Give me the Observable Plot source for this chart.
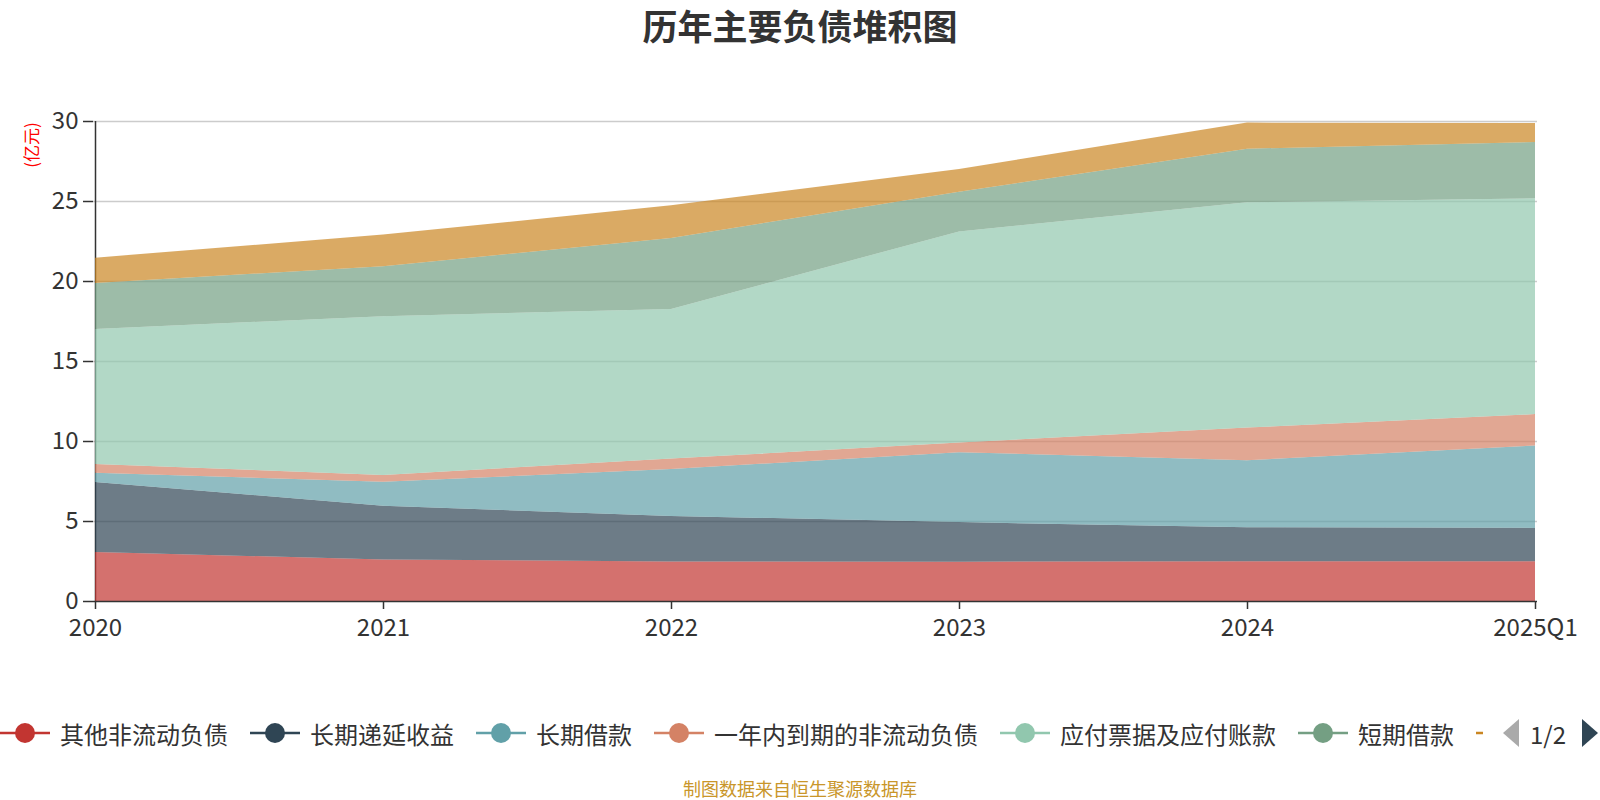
<!DOCTYPE html>
<html>
<head>
<meta charset="utf-8">
<script src="https://cdn.jsdelivr.net/npm/d3@7"></script>
<script src="https://cdn.jsdelivr.net/npm/@observablehq/plot@0.6"></script>
<style>
  body { margin: 0; background: #fff; }
  #wrap { position: relative; width: 1600px; height: 800px; overflow: hidden;
          font-family: "Noto Sans CJK SC", "Noto Sans", sans-serif; background: #fff; }
  #title { position: absolute; left: 0; top: 6px; width: 1600px; text-align: center;
           font-size: 35px; font-weight: bold; color: #333; line-height: 38px; }
  #unit { position: absolute; left: 30.5px; top: 145px; transform: translate(-50%, -50%) rotate(-90deg);
          font-size: 17px; color: #ff0000; white-space: nowrap; line-height: 20px; }
  #chart { position: absolute; left: 0; top: 100px; }
  #legend { position: absolute; left: 0; top: 700px; }
  #caption { position: absolute; left: 0; top: 777px; width: 1600px; text-align: center;
             font-size: 18px; color: #c9962a; line-height: 22px; }
</style>
</head>
<body>
<div id="wrap">
  <div id="title">历年主要负债堆积图</div>
  <div id="unit">(亿元)</div>
  <div id="chart"></div>
  <svg id="legend" width="1600" height="70"></svg>
  <div id="caption">制图数据来自恒生聚源数据库</div>
</div>
<script>
// ---- data ----
const years = ["2020", "2021", "2022", "2023", "2024", "2025Q1"];
const seriesNames = ["其他非流动负债", "长期递延收益", "长期借款", "一年内到期的非流动负债", "应付票据及应付账款", "短期借款", "合同负债"];
const seriesColors = ["#c23531", "#2f4554", "#61a0a8", "#d48265", "#91c7ae", "#749f83", "#ca8622"];
const otherNonCurrent = [3.06, 2.60, 2.47, 2.46, 2.48, 2.48];
const deferredIncome  = [4.38, 3.35, 2.85, 2.47, 2.13, 2.09];
const longTermLoans   = [0.58, 1.50, 2.93, 4.37, 4.19, 5.15];
const currentPortion  = [0.54, 0.43, 0.65, 0.60, 2.04, 1.96];
const payables        = [8.44, 9.92, 9.35, 13.20, 14.08, 13.49];
const shortTermLoans  = [2.88, 3.12, 4.44, 2.48, 3.35, 3.52];
const contractLiab    = [1.58, 1.98, 2.04, 1.42, 1.63, 1.19];
const yTicks = [0, 5, 10, 15, 20, 25, 30];
const visibleLegendCount = 6; // legend page 1 shows six labels; the 7th only as a cut icon

const seriesValues = [otherNonCurrent, deferredIncome, longTermLoans, currentPortion, payables, shortTermLoans, contractLiab];
const rows = seriesNames.flatMap((s, i) => years.map((y, j) => ({year: y, series: s, value: seriesValues[i][j]})));

// ---- chart ----
const chart = Plot.plot({
  width: 1600,
  height: 560,
  marginTop: 21,
  marginBottom: 59,
  marginLeft: 93,
  marginRight: 63,
  style: {fontFamily: "'Noto Sans CJK SC', 'Noto Sans', sans-serif", fontSize: "24px", color: "#333", background: "transparent"},
  x: {type: "point", domain: years, padding: 0, label: null},
  y: {domain: [0, 30], label: null},
  color: {domain: seriesNames, range: seriesColors},
  marks: [
    Plot.ruleY(yTicks.filter(d => d > 0), {stroke: "#cccccc", strokeWidth: 1.3}),
    Plot.ruleX([years[0]], {y1: 0, y2: 30, stroke: "#333", strokeWidth: 1.5}),
    Plot.areaY(rows, {x: "year", y: "value", fill: "series", z: "series", order: seriesNames, fillOpacity: 0.7, curve: "linear"}),
    Plot.ruleY([0], {stroke: "#333", strokeWidth: 1.5}),
    Plot.axisX({tickSize: 8, tickPadding: 9, fontSize: 24, stroke: "#333", strokeWidth: 1.5, fill: "#333", label: null}),
    Plot.axisY({ticks: yTicks, tickSize: 10, tickPadding: 5, fontSize: 24, stroke: "#333", strokeWidth: 1.5, fill: "#333", label: null})
  ]
});
document.getElementById("chart").appendChild(chart);

// ---- legend ----
const leg = d3.select("#legend");
const cy = 33;
leg.append("defs").append("clipPath").attr("id", "legclip")
  .append("rect").attr("x", 0).attr("y", 0).attr("width", 1483).attr("height", 70);
const items = leg.append("g").attr("clip-path", "url(#legclip)");
let xpos = 0;
seriesNames.forEach((name, i) => {
  const g = items.append("g").attr("transform", `translate(${xpos},0)`);
  g.append("line").attr("x1", 0).attr("x2", 50).attr("y1", cy).attr("y2", cy)
    .attr("stroke", seriesColors[i]).attr("stroke-width", 2.5);
  g.append("circle").attr("cx", 25).attr("cy", cy).attr("r", 10).attr("fill", seriesColors[i]);
  if (i < visibleLegendCount) {
    const t = g.append("text").attr("x", 60).attr("y", cy).attr("dominant-baseline", "central")
      .attr("font-size", 24).attr("fill", "#333")
      .attr("font-family", "'Noto Sans CJK SC', 'Noto Sans', sans-serif").text(name);
    const w = t.node().getComputedTextLength();
    xpos += 60 + w + 22;
  }
});
// pager
leg.append("path").attr("d", `M1519,${cy - 14} L1503,${cy} L1519,${cy + 14} Z`).attr("fill", "#aaaaaa");
leg.append("text").attr("x", 1548).attr("y", cy).attr("text-anchor", "middle").attr("dominant-baseline", "central")
  .attr("font-size", 24).attr("fill", "#333")
  .attr("font-family", "'Noto Sans CJK SC', 'Noto Sans', sans-serif").text("1/2");
leg.append("path").attr("d", `M1582,${cy - 14} L1598,${cy} L1582,${cy + 14} Z`).attr("fill", "#2f4554");
</script>
</body>
</html>
